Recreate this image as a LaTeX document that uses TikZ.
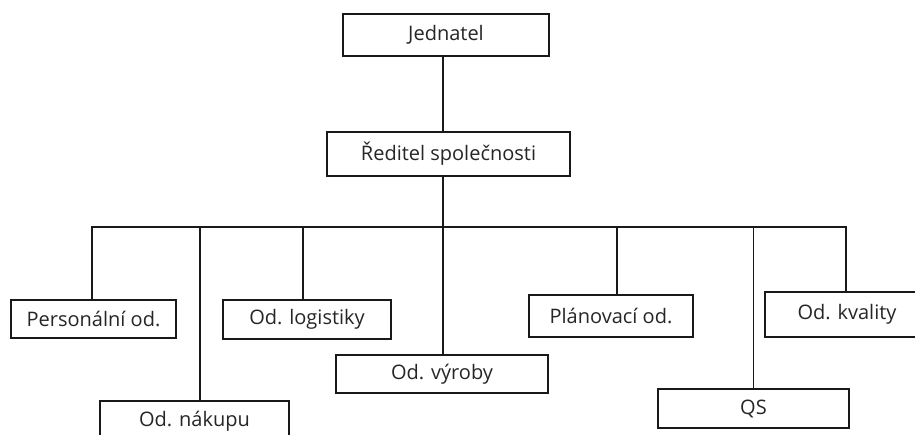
\documentclass[tikz,border=0pt]{standalone}
\usepackage{fontspec}
\setmainfont{Open Sans}
\usetikzlibrary{
  	positioning,
  	calc
  }
\tikzstyle{box}=[draw=black!90,line width=1.2pt,text=black!85,inner sep=0pt,font=\fontsize{20}{24}\selectfont]
\tikzstyle{link}=[draw=black!90,line width=1.2pt]

\begin{document}
\begin{tikzpicture}[x=1pt,y=1pt]
  \clip (0,0) rectangle (915,-434);
  \fill[white] (0,0) rectangle (915,-434);
%
  \node[box,minimum width=206,minimum height=42] (jed) at (446,-35) {Jednatel};
  \node[box,minimum width=243,minimum height=44] (red) at (448.5,-154) {Ředitel společnosti};
  \coordinate (bus) at (443,-227);
%
  \node[box,minimum width=165,minimum height=38] (pers) at (93.5,-319) {Personální od.};
  \node[box,minimum width=189,minimum height=40] (nak) at (194.5,-421) {Od. nákupu};
  \node[box,minimum width=168,minimum height=39] (log) at (307,-319.5) {Od. logistiky};
  \node[box,minimum width=212,minimum height=38] (vyr) at (442,-374) {Od. výroby};
  \node[box,minimum width=164,minimum height=42] (plan) at (611,-316) {Plánovací od.};
  \node[box,minimum width=191,minimum height=39] (qs) at (753.5,-408.5) {QS};
  \node[box,minimum width=164,minimum height=45] (kval) at (847,-314.5) {Od. kvality};
%
  \draw[link] (jed.south -| bus) -- (red.north -| bus);
  \draw[link] (red.south -| bus) -- (vyr.north -| bus);
  \foreach \n/\dx in {pers/-1.5,nak/5.5,log/-4,plan/6,qs/0,kval/-1}
    \draw[link] ([xshift=\dx pt]\n.north) |- (bus);
\end{tikzpicture}
\end{document}
